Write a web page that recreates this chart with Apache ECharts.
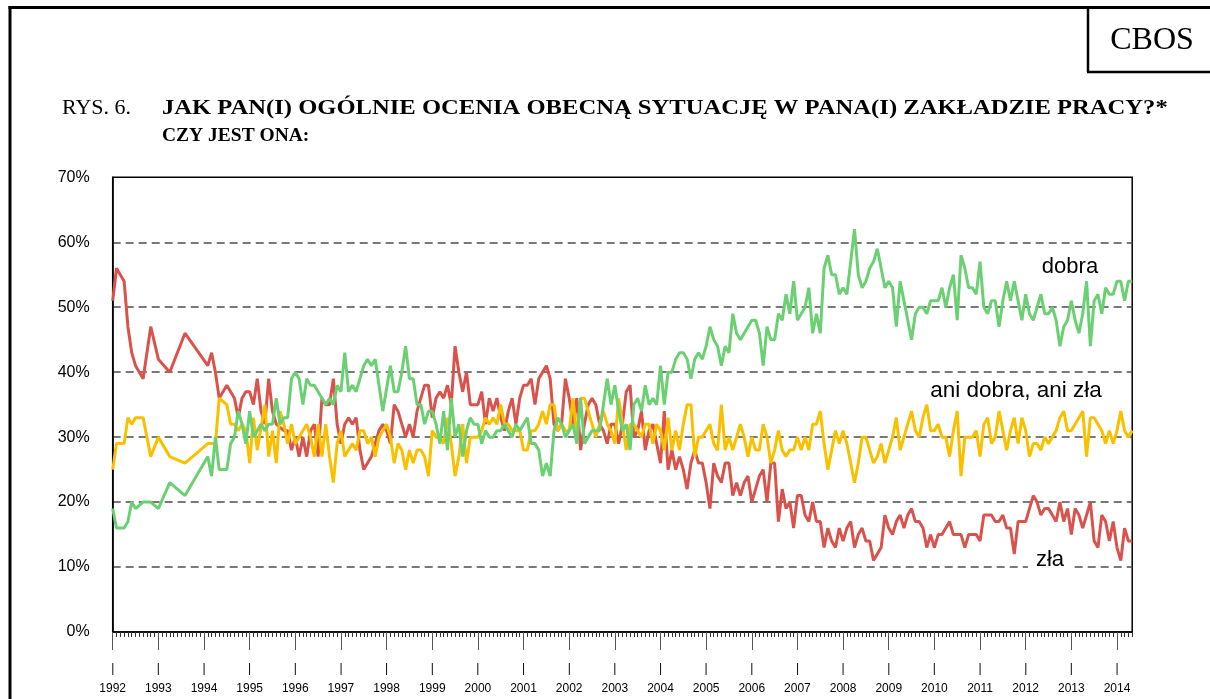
<!DOCTYPE html>
<html>
<head>
<meta charset="utf-8">
<script src="https://cdn.jsdelivr.net/npm/echarts@6/dist/echarts.min.js"></script>
<style>
  html, body { margin: 0; padding: 0; background: #fff; }
  #chart { width: 1210px; height: 699px; }
</style>
</head>
<body>
<div id="chart"></div>
<script>
// Years on the axis, monthly categories Jan 1992 .. May 2014
const years = ['1992', '1993', '1994', '1995', '1996', '1997', '1998', '1999', '2000', '2001', '2002',
  '2003', '2004', '2005', '2006', '2007', '2008', '2009', '2010', '2011', '2012', '2013', '2014']
const lastMonth = '2014-05'

// "zła" (red) - one value per month, null where there was no survey
const zla = [
  51, 56, null, 54, 47, 43, 41, null, 39, null,
  47, null, 42, null, null, 40, null, null, null, 46,
  null, null, null, null, null, 41, 43, 40, 36, null,
  38, null, 36, 33, 36, 37, 37, 35, 39, 34,
  32, 39, 34, 32, null, 31, 31, 28, 30, 27,
  30, 27, 31, 32, 27, 36, 35, 35, 39, 32,
  29, 32, 33, 32, 33, 28, 25, null, 27, 29,
  31, 32, 31, 29, 35, 34, 32, 30, 32, 30,
  34, 36, 38, 38, 33, 36, 37, 36, 38, 35,
  44, 40, 37, 40, 35, 35, 35, 37, 32, 36,
  34, 36, 33, 31, 34, 36, 32, 36, 38, 38,
  39, 35, 39, 40, 41, 39, 32, 31, 32, 39,
  36, 32, 36, 28, 32, 35, 36, 35, 32, 31,
  29, 32, 32, 29, 32, 37, 38, 30, 31, 34,
  28, 31, 32, 29, 26, 34, 25, 28, 25, 27,
  25, 22, 26, 28, 26, 26, 23, 19, 26, 24,
  23, 26, 26, 21, 23, 21, 23, 24, 20, 22,
  24, 25, 20, 26, 26, 17, 22, 19, 20, 16,
  21, 21, 18, 17, 20, 17, 17, 13, 16, 14,
  13, 16, 14, 16, 17, 13, 15, 16, 14, 14,
  11, 12, 13, 18, 16, 15, 17, 18, 16, 18,
  19, 17, 17, 16, 13, 15, 13, 15, 15, 16,
  17, 15, 15, 15, 13, 15, 15, 15, 14, 18,
  18, 18, 17, 17, 18, 16, 16, 12, 17, 17,
  17, 19, 21, 20, 18, 19, 19, 18, 17, 20,
  17, 19, 15, 19, 18, 16, 18, 20, 14, 13,
  18, 17, 14, 17, 13, 11, 16, 14, 14
]

// "ani dobra, ani zła" (yellow)
const aniAni = [
  25, 29, null, 29, 33, 32, 33, null, 33, null,
  27, null, 30, null, null, 27, null, null, null, 26,
  null, null, null, null, null, 29, 29, 29, 36, null,
  35, 32, 32, 31, 32, 31, 26, 33, 28, null,
  35, 27, 31, 26, 34, 32, 29, 32, 29, 30,
  null, 32, 30, 27, 32, 27, 32, 27, 23, 29,
  31, 27, null, 29, 28, 31, 31, 29, 30, 27,
  30, 31, 32, 30, 26, 29, 28, 25, 28, 26,
  28, 28, 27, 24, 31, 30, 30, 29, 33, 29,
  24, 27, 32, 26, 30, 30, 30, 31, 33, 32,
  33, 32, 35, 32, 32, 31, 31, 31, 28, 28,
  31, 31, 32, 34, 32, 35, 35, 31, 32, 31,
  31, 36, 30, 36, 36, 34, 32, 30, 32, 34,
  32, 31, 29, 36, 32, 28, 32, 32, 31, 30,
  32, 32, 29, 32, 31, 28, 33, 28, 31, 28,
  32, 35, 35, 27, 30, 30, 31, 32, 29, 28,
  35, 28, 30, 28, 30, 32, 30, 27, 30, 28,
  28, 32, 30, 26, 28, 31, 28, 27, 28, 28,
  30, 28, 30, 28, 32, 32, 34, 29, 25, 28,
  31, 29, 31, 29, 26, 23, 26, 30, 30, 28,
  26, 27, 29, 26, 28, 30, 33, 28, 30, 32,
  34, 31, 30, 33, 35, 31, 31, 32, 30, 30,
  27, 31, 34, 24, 30, 30, 30, 31, 27, 32,
  33, 29, 30, 34, 31, 28, 31, 33, 29, 33,
  31, 27, 29, 29, 28, 30, 29, 30, 31, 33,
  34, 31, 31, 32, 33, 34, 27, 33, 33, 32,
  31, 29, 31, 29, 31, 34, 31, 30, 31
]

// "dobra" (green)
const dobra = [
  19, 16, null, 16, 17, 20, 19, null, 20, null,
  20, null, 19, null, null, 23, null, null, null, 21,
  null, null, null, null, null, 27, 24, 30, 25, null,
  25, 29, 30, 34, 32, 29, 34, 30, 31, 32,
  31, 32, 32, 36, 32, 33, 33, 39, 40, 39,
  35, 39, 38, 38, 37, null, 35, 36, 35, 38,
  37, 43, 37, 38, 37, 39, 41, 42, 41, 42,
  null, 34, null, 41, 37, 37, 40, 44, 39, 39,
  35, 35, 32, 34, 34, 32, 29, 34, 28, 36,
  30, 32, 27, 31, 33, 32, 32, 29, 31, 30,
  30, 31, 31, 32, 31, 30, 32, 31, 32, 33,
  29, 29, 28, 24, 26, 24, 31, 33, 32, 30,
  31, 32, 29, 36, 29, 30, 31, 31, 31, 35,
  39, 35, 38, 34, 31, 32, 28, 35, 36, 34,
  38, 35, 36, 35, 41, 35, 40, 40, 42, 43,
  43, 42, 39, 42, 43, 42, 44, 47, 45, 44,
  41, 44, 43, 49, 46, 45, 46, 47, 48, 48,
  46, 41, 47, 45, 45, 49, 48, 52, 49, 54,
  48, 49, 50, 53, 46, 49, 46, 56, 58, 55,
  55, 52, 53, 52, 57, 62, 55, 53, 54, 56,
  57, 59, 56, 53, 54, 53, 47, 54, 51, 48,
  45, 49, 50, 50, 49, 51, 51, 51, 53, 50,
  53, 55, 48, 58, 56, 53, 53, 52, 57, 50,
  49, 51, 51, 47, 51, 54, 51, 54, 51, 48,
  52, 49, 48, 50, 52, 49, 49, 50, 48, 44,
  47, 48, 51, 48, 46, 49, 54, 44, 51, 52,
  49, 53, 52, 52, 54, 54, 51, 54, 54
]

const months = []
years.forEach(y => {
  for (let k = 1; k <= 12; k++) months.push(y + '-' + String(k).padStart(2, '0'))
})
months.length = months.indexOf(lastMonth) + 1

const colors = { zla: '#d9534c', ani: '#f9c000', dobra: '#6bd072' }
const isYearStart = (i) => i % 12 === 0
const serif = '"Liberation Serif", "Times New Roman", serif'
const sans = '"Liberation Sans", Arial, sans-serif'

const chart = echarts.init(document.getElementById('chart'))

chart.setOption({
  animation: false,
  grid: {
    left: 112.7, right: 77.8, top: 177.3, bottom: 64.3,
    show: true, borderColor: '#000', borderWidth: 1.5
  },
  xAxis: [
    {
      // monthly ticks
      type: 'category',
      data: months,
      boundaryGap: false,
      axisLine: { lineStyle: { color: '#000', width: 1.5 } },
      axisTick: { interval: 0, length: 5, lineStyle: { color: '#333', width: 1 } },
      axisLabel: { show: false },
      splitLine: { show: false }
    },
    {
      // yearly ticks + labels
      type: 'category',
      data: months,
      boundaryGap: false,
      position: 'bottom',
      axisLine: { show: false },
      axisTick: { interval: isYearStart, length: 18, lineStyle: { color: '#555', width: 1 } },
      axisLabel: {
        interval: isYearStart,
        formatter: v => '|\n' + v.slice(0, 4),
        margin: 27,
        fontSize: 12,
        lineHeight: 20,
        color: '#000',
        fontFamily: sans
      },
      splitLine: { show: false }
    }
  ],
  yAxis: {
    type: 'value',
    min: 0,
    max: 70,
    interval: 10,
    axisLine: { show: true, lineStyle: { color: '#000', width: 1.5 } },
    axisTick: { show: false },
    axisLabel: { formatter: '{value}%', fontSize: 16, color: '#000', margin: 23, fontFamily: sans },
    splitLine: {
      show: true,
      showMinLine: false,
      showMaxLine: false,
      lineStyle: { color: '#4d4d4d', width: 1.5, type: [8, 5] }
    }
  },
  series: [
    {
      name: 'zła', type: 'line', data: zla, connectNulls: true, showSymbol: false,
      lineStyle: { color: colors.zla, width: 3 }, itemStyle: { color: colors.zla }
    },
    {
      name: 'ani dobra, ani zła', type: 'line', data: aniAni, connectNulls: true, showSymbol: false,
      lineStyle: { color: colors.ani, width: 3 }, itemStyle: { color: colors.ani }
    },
    {
      name: 'dobra', type: 'line', data: dobra, connectNulls: true, showSymbol: false,
      lineStyle: { color: colors.dobra, width: 3 }, itemStyle: { color: colors.dobra }
    }
  ],
  graphic: [
    // page frame
    { type: 'line', shape: { x1: 10, y1: 6, x2: 10, y2: 699 }, style: { stroke: '#000', lineWidth: 3 } },
    { type: 'line', shape: { x1: 8.5, y1: 7.5, x2: 1210, y2: 7.5 }, style: { stroke: '#000', lineWidth: 3 } },
    // CBOS box
    { type: 'line', shape: { x1: 1088, y1: 7, x2: 1088, y2: 72 }, style: { stroke: '#000', lineWidth: 2.5 } },
    { type: 'line', shape: { x1: 1087, y1: 72, x2: 1210, y2: 72 }, style: { stroke: '#000', lineWidth: 2.5 } },
    {
      type: 'text', x: 1152, y: 41,
      style: { text: 'CBOS', font: '32px ' + serif, fill: '#000', textAlign: 'center', textVerticalAlign: 'middle' }
    },
    // title
    {
      type: 'text', x: 62, y: 109, scaleX: 1.1,
      style: { text: 'RYS. 6.', font: '20px ' + serif, fill: '#000', textVerticalAlign: 'middle' }
    },
    {
      type: 'text', x: 162, y: 109, scaleX: 1.23,
      style: { text: 'JAK PAN(I) OGÓLNIE OCENIA OBECNĄ SYTUACJĘ W PANA(I) ZAKŁADZIE PRACY?*', font: 'bold 20px ' + serif, fill: '#000', textVerticalAlign: 'middle' }
    },
    {
      type: 'text', x: 162, y: 136,
      style: { text: 'CZY JEST ONA:', font: 'bold 19.5px ' + serif, fill: '#000', textVerticalAlign: 'middle' }
    },
    // series labels
    {
      type: 'text', x: 1070, y: 267, z: 10,
      style: { text: 'dobra', font: '22px ' + sans, fill: '#000', textAlign: 'center', textVerticalAlign: 'middle' }
    },
    {
      type: 'text', x: 1016, y: 391, z: 10,
      style: { text: 'ani dobra, ani zła', font: '22.5px ' + sans, fill: '#000', textAlign: 'center', textVerticalAlign: 'middle' }
    },
    {
      type: 'text', x: 1050, y: 560, z: 10,
      style: {
        text: 'zła', font: '22px ' + sans, fill: '#000', textAlign: 'center', textVerticalAlign: 'middle',
        backgroundColor: '#fff', padding: [0, 8, 1, 8]
      }
    }
  ]
})
</script>
</body>
</html>
